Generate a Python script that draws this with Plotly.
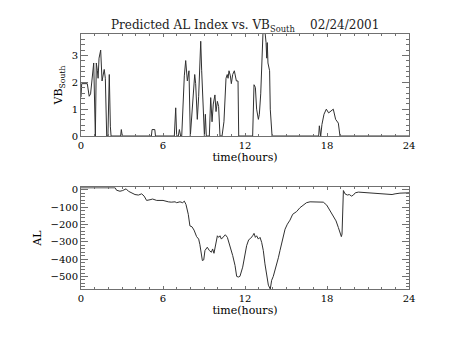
import plotly.graph_objects as go

# Solar-wind VBs (mV/m) against time of day, 24 Feb 2001
vb_time = [0.0, 0.05, 0.46, 0.6, 0.7, 0.8, 0.93, 1.05, 1.12, 1.2, 1.25, 1.32, 1.44, 1.54,
           1.63, 1.7, 1.78, 1.88, 1.97, 2.07, 2.15, 2.2, 2.9, 2.95, 3.02, 5.15, 5.2, 5.4,
           5.45, 6.83, 6.93, 7.0, 7.12, 7.2, 7.29, 7.37, 7.56, 7.66, 7.78, 7.9, 8.0, 8.07,
           8.22, 8.32, 8.39, 8.51, 8.61, 8.7, 8.76, 8.83, 8.98, 9.03, 9.1, 9.17, 9.39, 9.49,
           9.59, 9.68, 9.8, 9.88, 9.98, 10.07, 10.17, 10.32, 10.46, 10.61, 10.7, 10.76,
           10.83, 10.93, 11.0, 11.1, 11.22, 11.29, 11.37, 11.49, 11.54, 12.56, 12.66,
           12.76, 12.85, 12.98, 13.05, 13.15, 13.22, 13.32, 13.46, 13.54, 13.59, 13.63,
           13.68, 13.76, 13.8, 13.85, 13.98, 17.39, 17.44, 17.54, 17.63, 17.78, 17.95,
           18.12, 18.27, 18.46, 18.63, 18.76, 18.83, 18.95, 24.0]
vb_south = [1.45, 1.95, 1.95, 1.48, 1.57, 2.15, 2.72, 0.0, 2.72, 2.43, 2.15, 2.9, 3.2, 2.05,
            2.34, 2.48, 2.15, 0.0, 0.0, 2.29, 0.34, 0.0, 0.0, 0.24, 0.0, 0.0, 0.24, 0.24,
            0.0, 0.0, 1.05, 0.0, 0.0, 0.24, 0.0, 0.0, 2.24, 2.81, 2.05, 2.43, 0.0, 0.53,
            1.48, 2.29, 1.95, 0.62, 1.48, 3.1, 3.53, 2.43, 0.0, 0.0, 0.81, 0.0, 0.0, 1.43,
            0.53, 1.19, 1.53, 0.91, 1.29, 1.1, 0.0, 0.0, 0.53, 2.15, 2.29, 2.15,
            2.43, 2.24, 1.95, 2.29, 2.43, 2.29, 2.05, 2.05, 0.0, 0.0, 1.91,
            1.81, 1.0, 0.62, 0.81, 1.57, 2.43, 3.9, 3.9, 3.48, 2.9, 3.48,
            2.72, 2.53, 2.43, 1.0, 0.0, 0.0, 0.38, 0.0, 0.43, 0.81, 1.0,
            0.86, 0.91, 1.0, 0.62, 0.53, 0.48, 0.0, 0.0]

# Predicted AL index (nT)
al_time = [0.0, 2.5, 2.6, 2.85, 3.05, 3.3, 3.47, 3.7, 3.95, 4.2, 4.44, 4.62, 4.8, 5.05,
           5.24, 5.54, 6.0, 6.39, 6.6, 6.88, 7.0, 7.24, 7.44, 7.56, 7.68, 7.85, 7.97,
           8.12, 8.27, 8.46, 8.61, 8.7, 8.8, 8.88, 8.98, 9.07, 9.24, 9.39, 9.54, 9.63,
           9.73, 9.88, 9.98, 10.07, 10.17, 10.27, 10.41, 10.56, 10.71, 10.9, 11.1, 11.27,
           11.39, 11.51, 11.63, 11.83, 12.0, 12.12, 12.27, 12.41, 12.56, 12.66, 12.76,
           12.85, 12.98, 13.1, 13.22, 13.34, 13.46, 13.59, 13.71, 13.85, 13.95, 14.07,
           14.27, 14.44, 14.56, 14.76, 14.93, 15.1, 15.29, 15.49, 15.66, 15.78, 16.02,
           16.27, 16.5, 16.76, 17.0, 17.49, 17.73, 17.98, 18.22, 18.46, 18.66, 18.83,
           18.95, 19.05, 19.1, 19.15, 19.2, 19.32, 19.49, 19.63, 19.8, 19.93, 20.07,
           20.3, 20.66, 20.9, 21.4, 21.9, 22.4, 22.76, 22.98, 23.34, 24.0]
al_index = [12, 12, -2, -8, -4, 6, -8, -19, -27, -30, -23, -36, -61, -57,
            -53, -61, -61, -69, -71, -69, -74, -69, -74, -65, -84, -141, -208,
            -213, -232, -270, -284, -316, -370, -408, -404, -350, -331, -350, -360, -341,
            -366, -303, -265, -274, -265, -284, -274, -259, -274, -322, -379, -436,
            -499, -503, -499, -446, -379, -322, -288, -280, -265, -251, -274,
            -265, -284, -274, -303, -350, -427, -503, -550, -572, -522, -499,
            -446, -392, -350, -274, -227, -198, -175, -141, -131, -125, -103,
            -88, -74, -69, -69, -69, -71, -88, -118, -150, -179, -217,
            -251, -270, -255, -4, -4, -23, -30, -27, -36, -30, -17,
            -13, -15, -17, -19, -23, -27, -27, -23, -19, -17]

hour_ticks = [0, 6, 12, 18, 24]

FONT = "DejaVu Serif"
LINE = "#303030"
FRAME = "#707070"

fig = go.Figure()
fig.add_trace(go.Scatter(x=vb_time, y=vb_south, mode="lines",
                         line=dict(color=LINE, width=1), xaxis="x", yaxis="y"))
fig.add_trace(go.Scatter(x=al_time, y=al_index, mode="lines",
                         line=dict(color=LINE, width=1), xaxis="x2", yaxis="y2"))

xcommon = dict(range=[0, 24], tickvals=hour_ticks, ticks="inside", ticklen=3,
               tickcolor=FRAME, showline=True, linecolor=FRAME, linewidth=1,
               mirror="allticks", showgrid=False, zeroline=False,
               minor=dict(dtick=1, ticks="inside", ticklen=2, tickcolor=FRAME),
               tickfont=dict(family=FONT, size=10, color="black"))
ycommon = dict(ticks="inside", ticklen=7, tickcolor=FRAME, showline=True,
               linecolor=FRAME, linewidth=1, mirror="allticks", showgrid=False,
               zeroline=False, tickfont=dict(family=FONT, size=10, color="black"))

fig.update_layout(
    width=454, height=341,
    margin=dict(l=81, r=45, t=34, b=52),
    plot_bgcolor="white", paper_bgcolor="white",
    showlegend=False,
    title=dict(text="Predicted AL Index vs. VB<sub>South</sub>\u00a0\u00a0\u00a0\u00a002/24/2001",
               x=0.54, xanchor="center", y=1 - 25 / 341, yanchor="middle",
               yref="container",
               font=dict(family=FONT, size=12, color="#222")),
    xaxis=dict(xcommon, domain=[0, 1], anchor="y",
               title=dict(text="time(hours)", standoff=2,
                          font=dict(family=FONT, size=11, color="black"))),
    yaxis=dict(ycommon, domain=[0.6, 1.0], anchor="x", range=[0, 3.8],
               tickvals=[0, 1, 2, 3],
               minor=dict(dtick=0.2, ticks="inside", ticklen=3.5, tickcolor=FRAME),
               title=dict(text="VB<sub>South</sub>", standoff=6,
                          font=dict(family=FONT, size=11, color="black"))),
    xaxis2=dict(xcommon, domain=[0, 1], anchor="y2",
                title=dict(text="time(hours)", standoff=2,
                           font=dict(family=FONT, size=11, color="black"))),
    yaxis2=dict(ycommon, domain=[0.0, 0.399], anchor="x2", range=[-572, 15],
                tickvals=[0, -100, -200, -300, -400, -500],
                minor=dict(dtick=20, ticks="inside", ticklen=3.5, tickcolor=FRAME),
                title=dict(text="AL", standoff=6,
                           font=dict(family=FONT, size=11, color="black"))),
)

fig.write_html("out.html")
